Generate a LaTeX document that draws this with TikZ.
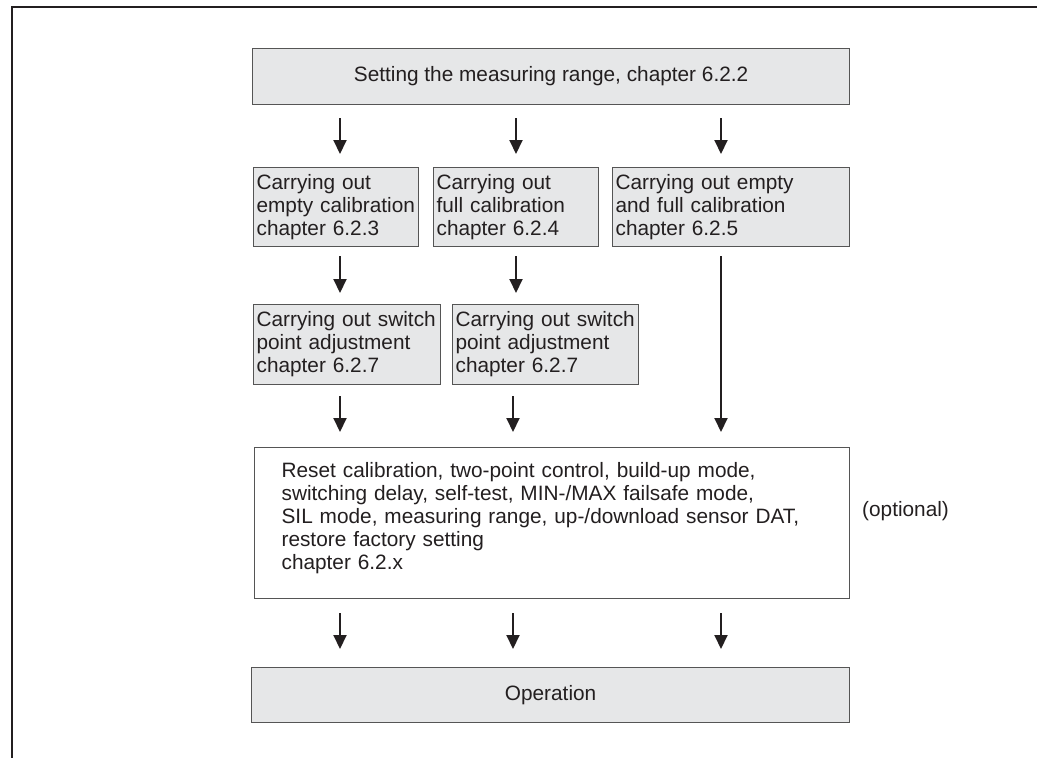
\documentclass[tikz,border=0pt]{standalone}
\usepackage{fontspec}
\setmainfont{Liberation Sans}
\usetikzlibrary{arrows.meta}
\definecolor{NText}{RGB}{35,31,32}
\definecolor{NGray}{RGB}{230,231,232}
\definecolor{NFrame}{RGB}{85,85,85}
\begin{document}
\begin{tikzpicture}[x=1pt, y=-1pt,
      every node/.style={font=\fontsize{20.8}{23}\selectfont, text=NText, inner sep=0pt},
      graybox/.style={draw=NFrame, line width=1.2pt, fill=NGray, anchor=north west,
                      inner xsep=3pt, align=left},
      optbox/.style={draw=NFrame, line width=1.2pt, fill=white, anchor=north west,
                     inner xsep=27pt, align=left},
      arr/.style={-{Triangle[width=13pt,length=14pt]}, line width=2pt, NText},
    ]
      \useasboundingbox (0,0) rectangle (1037,758);
      % Page frame (top and left edges)
      \draw[line width=2.8pt, NText] (12,758) -- (12,7) -- (1037,7);
      % Columns of the arrows
      \coordinate (c1) at (340,0);
      \coordinate (c2) at (516,0);
      \coordinate (c2b) at (513,0);
      \coordinate (c3) at (721,0);
      % Top: measuring range
      \node[graybox, minimum width=597, minimum height=56, align=center] (setrange) at (252,48)
        {Setting the measuring range, chapter 6.2.2};
      % Second row: calibrations
      \node[graybox, text width=159, minimum height=79] (emptycal) at (253,167)
        {Carrying out\\\mbox{empty calibration}\\chapter 6.2.3};
      \node[graybox, text width=159, minimum height=79] (fullcal) at (433,167)
        {Carrying out\\full calibration\\chapter 6.2.4};
      \node[graybox, text width=231, minimum height=79] (bothcal) at (612,167)
        {Carrying out empty\\and full calibration\\chapter 6.2.5};
      % Third row: switch point adjustment
      \node[graybox, text width=181, minimum height=80] (swadjA) at (253,304)
        {\mbox{Carrying out switch}\\point adjustment\\chapter 6.2.7};
      \node[graybox, text width=180, minimum height=80] (swadjB) at (452,304)
        {\mbox{Carrying out switch}\\point adjustment\\chapter 6.2.7};
      % Optional settings
      \node[optbox, text width=541, minimum height=151] (options) at (254,447)
        {Reset calibration, two-point control, build-up mode,\\
         switching delay, self-test, MIN-/MAX failsafe mode,\\
         SIL mode, measuring range, up-/download sensor DAT,\\
         restore factory setting\\
         chapter 6.2.x\rule[-14pt]{0pt}{14pt}};
      \node[anchor=west] (optional) at (862,511) {(optional)};
      % Bottom: operation
      \node[graybox, minimum width=598, minimum height=55, align=center] (operation) at (251,667)
        {Operation};
      % Arrows
      \foreach \c/\n in {c1/emptycal, c2/fullcal, c3/bothcal}
        \draw[arr, shorten <=13pt, shorten >=13pt] (setrange.south -| \c) -- (\n.north -| \c);
      \draw[arr, shorten <=9pt, shorten >=11pt] (emptycal.south -| c1) -- (swadjA.north -| c1);
      \draw[arr, shorten <=9pt, shorten >=11pt] (fullcal.south -| c2) -- (swadjB.north -| c2);
      \draw[arr, shorten <=9pt, shorten >=15pt] (bothcal.south -| c3) -- (options.north -| c3);
      \draw[arr, shorten <=11pt, shorten >=15pt] (swadjA.south -| c1) -- (options.north -| c1);
      \draw[arr, shorten <=11pt, shorten >=15pt] (swadjB.south -| c2b) -- (options.north -| c2b);
      \foreach \c in {c1, c2b, c3}
        \draw[arr, shorten <=14pt, shorten >=18pt] (options.south -| \c) -- (operation.north -| \c);
    \end{tikzpicture}
\end{document}
